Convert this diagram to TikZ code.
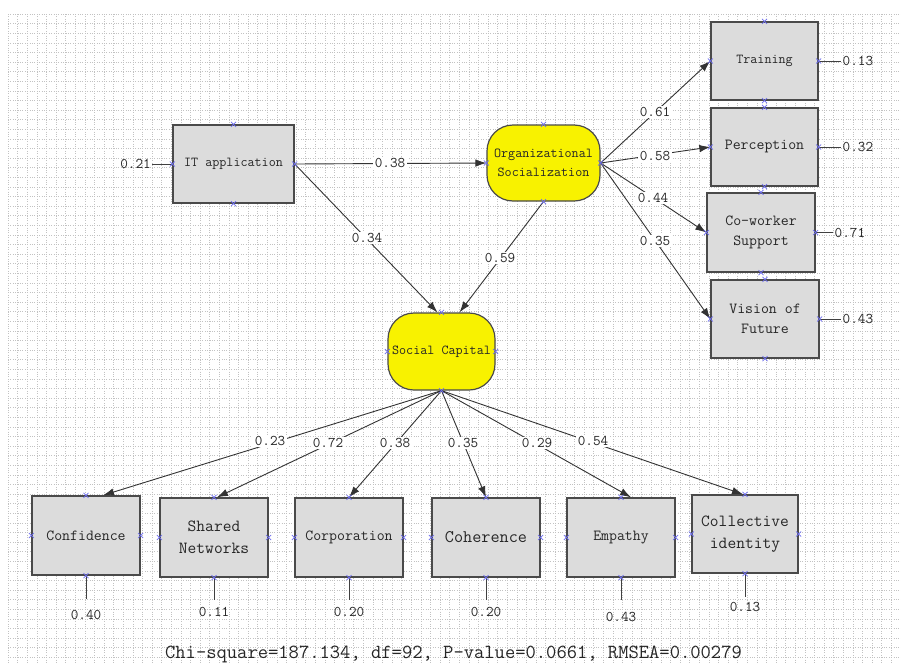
\documentclass[tikz,border=0pt]{standalone}
\usepackage{fontspec}
\usetikzlibrary{arrows.meta}
\definecolor{boxfill}{HTML}{DCDCDC}
\definecolor{boxline}{HTML}{4A4A4A}
\definecolor{ylw}{HTML}{F8F200}
\definecolor{mkcol}{HTML}{6E6EF0}
\definecolor{txt}{HTML}{262626}
\newcommand\mtt{\ttfamily\addfontfeature{FakeBold=1.1}}
\begin{document}
\begin{tikzpicture}[x=1pt,y=-1pt,
  gridl/.style={black!24,line width=0.4pt,dash pattern=on 1pt off 1.4pt},
  box/.style={draw=boxline,line width=1.4pt,fill=boxfill,inner sep=0pt,align=center,text=txt,font=\mtt\fontsize{15.4}{19}\selectfont},
  latent/.style={draw=boxline,line width=1.2pt,fill=ylw,rounded corners=26pt,inner sep=0pt,align=center,text=txt,font=\mtt\fontsize{13.7}{19}\selectfont},
  path/.style={black!80,line width=0.9pt,-{Latex[length=11pt,width=7.5pt]}},
  err/.style={black!75,line width=0.9pt},
  coef/.style={fill=white,inner sep=1.5pt,text=txt,font=\mtt\fontsize{14.8}{16}\selectfont},
  mk/.style={mkcol,line width=0.7pt}]
\useasboundingbox (0,0) rectangle (901,664);
\fill[white] (0,0) rectangle (901,664);
% grid
\foreach \i in {0,...,93} \draw[gridl] (8+\i*9.6,14) -- (8+\i*9.6,664);
\foreach \j in {0,...,67} \draw[gridl] (8,14+\j*9.6) -- (901,14+\j*9.6);

% nodes
\node[box,minimum width=121pt,minimum height=78pt,font=\mtt\fontsize{13.7}{17}\selectfont] (it) at (233.5,164) {IT application};
\node[latent,minimum width=113pt,minimum height=76pt] (os) at (543.5,163) {Organizational\\Socialization};
\node[box,minimum width=107pt,minimum height=78pt,font=\mtt\fontsize{13.7}{17}\selectfont] (tr) at (764.5,61) {Training};
\node[box,minimum width=107pt,minimum height=78pt] (pe) at (764.5,147) {Perception};
\node[box,minimum width=108pt,minimum height=79pt,font=\mtt\fontsize{15.4}{20}\selectfont] (cw) at (761,232.5) {Co-worker\\Support};
\node[box,minimum width=108pt,minimum height=78pt,font=\mtt\fontsize{15.4}{20}\selectfont] (vf) at (765,319) {Vision of\\Future};
\node[latent,minimum width=107pt,minimum height=77pt] (sc) at (441.5,351.5) {Social Capital};

\node[box,minimum width=108pt,minimum height=79pt] (cf) at (86,535.5) {Confidence};
\node[box,minimum width=108pt,minimum height=79pt,font=\mtt\fontsize{17}{22}\selectfont] (sn) at (214,537.5) {Shared\\Networks};
\node[box,minimum width=108pt,minimum height=79pt] (co) at (349,537.5) {Corporation};
\node[box,minimum width=108pt,minimum height=79pt,font=\mtt\fontsize{17.7}{20}\selectfont] (ch) at (486,537.5) {Coherence};
\node[box,minimum width=108pt,minimum height=79pt] (em) at (621,537.5) {Empathy};
\node[box,minimum width=106pt,minimum height=78pt,font=\mtt\fontsize{17}{22}\selectfont] (ci) at (745,534) {Collective\\identity};

% structural paths
\draw[path] (it.east) -- (os.west);
\draw[path] (it.east) -- ([xshift=-4pt]sc.north);
\draw[path] (os.south) -- ([xshift=18pt]sc.north);
\draw[path] (os.east) -- (tr.west);
\draw[path] (os.east) -- (pe.west);
\draw[path] (os.east) -- (cw.west);
\draw[path] (os.east) -- (vf.west);
\draw[path] (sc.south) -- ([xshift=17pt]cf.north);
\draw[path] (sc.south) -- ([xshift=3pt]sn.north);
\draw[path] (sc.south) -- (co.north);
\draw[path] (sc.south) -- (ch.north);
\draw[path] (sc.south) -- ([xshift=10pt]em.north);
\draw[path] (sc.south) -- ([xshift=-2pt]ci.north);

% coefficients
\node[coef] (c1) at (390,163) {0.38};
\node[coef] (c2) at (367,238) {0.34};
\node[coef] (c3) at (500,258) {0.59};
\node[coef] (c4) at (655,112) {0.61};
\node[coef] (c5) at (655,156) {0.58};
\node[coef] (c6) at (653,198) {0.44};
\node[coef] (c7) at (655,241) {0.35};
\node[coef] (c8) at (270,441) {0.23};
\node[coef] (c9) at (328,443) {0.72};
\node[coef] (c10) at (395,443) {0.38};
\node[coef] (c11) at (463,443) {0.35};
\node[coef] (c12) at (537,443) {0.29};
\node[coef] (c13) at (593,441) {0.54};

% error terms
\coordinate (eit) at (152,164);
\draw[err] (it.west) -- (eit);
\node[coef,fill=none,anchor=east,inner sep=1pt] (lit) at (eit) {0.21};
\foreach \n/\v/\x in {tr/0.13/841,pe/0.32/841,cw/0.71/833,vf/0.43/841}{
  \coordinate (e\n) at (\x,0 |- \n.east);
  \draw[err] (\n.east) -- (e\n);
  \node[coef,fill=none,anchor=west,inner sep=1.5pt] (l\n) at (e\n) {\v};
}
\foreach \n/\v/\y/\ly in {cf/0.40/599/615,sn/0.11/600/612,co/0.20/600/612,ch/0.20/600/612,em/0.43/600/617,ci/0.13/597/607}{
  \coordinate (e\n) at (\n.south |- 0,\y);
  \draw[err] (\n.south) -- (e\n);
  \node[coef,fill=none] (l\n) at (\n.south |- 0,\ly) {\v};
}

% anchor markers
\foreach \n in {it,os,tr,pe,cw,vf,sc,cf,sn,co,ch,em,ci}
  \foreach \a in {north,south,east,west}
    \draw[mk] (\n.\a) +(-2.5,-2.5) -- +(2.5,2.5) +(-2.5,2.5) -- +(2.5,-2.5);

% fit statistics
\node[text=txt,font=\mtt\fontsize{20}{22}\selectfont] (fit) at (453.5,654) {Chi-square=187.134, df=92, P-value=0.0661, RMSEA=0.00279};
\end{tikzpicture}
\end{document}
